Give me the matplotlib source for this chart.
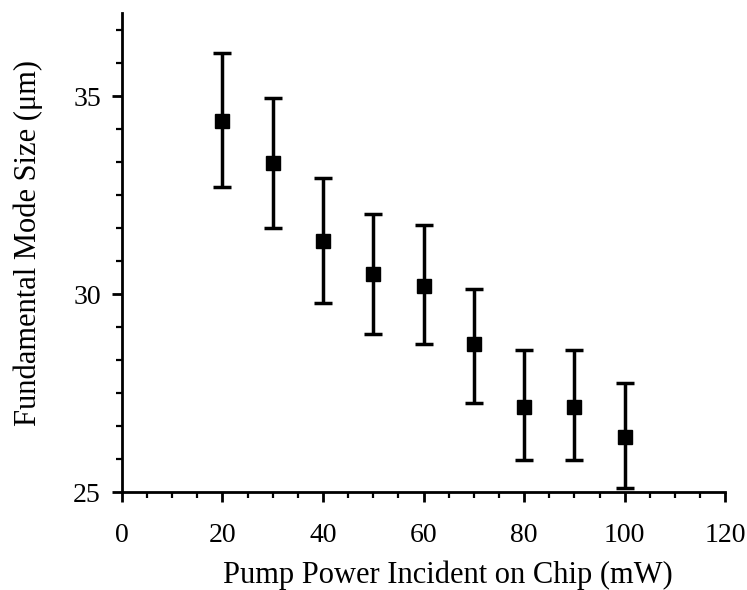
import matplotlib.pyplot as plt
from matplotlib.ticker import MultipleLocator

# pump power (mW) and fundamental mode size (um) with error bar ends
power = [20, 30, 40, 50, 60, 70, 80, 90, 100]
mode_size = [34.38, 33.32, 31.35, 30.52, 30.2, 28.73, 27.16, 27.16, 26.38]
upper = [36.1, 34.95, 32.92, 32.02, 31.75, 30.14, 28.6, 28.6, 27.75]
lower = [32.7, 31.68, 29.77, 29.0, 28.73, 27.24, 25.82, 25.82, 25.1]

plt.rcParams['font.family'] = ['Liberation Serif', 'DejaVu Serif']

yerr = [[m - lo for m, lo in zip(mode_size, lower)],
        [up - m for m, up in zip(mode_size, upper)]]

fig = plt.figure(figsize=(7.47, 5.9), dpi=100)
ax = fig.add_axes([0.163, 0.166, 0.808, 0.812])
ax.errorbar(power, mode_size, yerr=yerr, fmt='s', color='black',
            markersize=10, elinewidth=2.5, capsize=6.5, capthick=2.5)

ax.set_xlim(0, 120)
ax.set_ylim(25, 37.1)
ax.xaxis.set_major_locator(MultipleLocator(20))
ax.xaxis.set_minor_locator(MultipleLocator(5))
ax.yaxis.set_major_locator(MultipleLocator(5))
ax.yaxis.set_minor_locator(MultipleLocator(5 / 6))
ax.spines['top'].set_visible(False)
ax.spines['right'].set_visible(False)
ax.spines['left'].set_linewidth(2)
ax.spines['bottom'].set_linewidth(2)
ax.tick_params(which='major', direction='out', length=7, width=2,
               labelsize=20)
ax.tick_params(axis='x', which='major', pad=15)
ax.tick_params(axis='y', which='major', pad=8)
ax.tick_params(which='minor', direction='out', length=4.5, width=1.6)

ax.set_xlabel("Pump Power Incident on Chip (mW)", fontsize=22)
ax.xaxis.set_label_coords(0.541, -0.143)
ax.set_ylabel("Fundamental Mode Size (\u03bcm)", fontsize=22, labelpad=22)
ax.yaxis.label.set_y(0.52)

fig.savefig("out.png", dpi=100)
